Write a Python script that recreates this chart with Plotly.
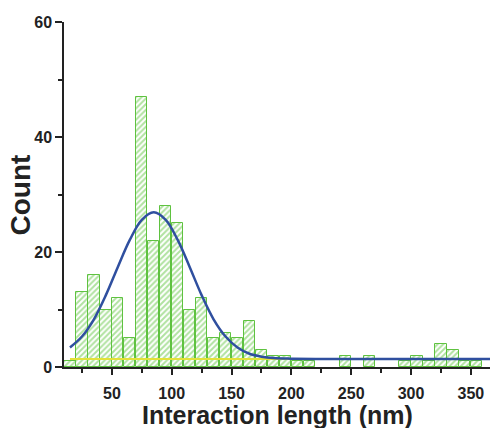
import plotly.graph_objects as go

# Histogram bins (centres, nm) and counts
bin_centers = [15, 25, 35, 45, 55, 65, 75, 85, 95, 105, 115, 125, 135, 145, 155,
               165, 175, 185, 195, 205, 215, 225, 235, 245, 255, 265, 275, 285,
               295, 305, 315, 325, 335, 345, 355]
counts = [1, 13, 16, 10, 12, 5, 47, 22, 28, 25, 10, 12, 5, 6, 5,
          8, 3, 2, 2, 1, 1, 0, 0, 2, 0, 2, 0, 0,
          1, 2, 1, 4, 3, 1, 1]

# Gaussian fit curve
fit_x = [15, 25, 35, 45, 55, 65, 75, 85, 95, 105, 115, 125, 135, 145, 155,
         165, 175, 185, 200, 220, 260, 320, 366]
fit_y = [3.4, 5.3, 8.3, 12.5, 17.4, 22.1, 25.6, 26.9, 25.6, 22.1, 17.4, 12.5, 8.3, 5.3, 3.4,
         2.3, 1.8, 1.55, 1.45, 1.4, 1.4, 1.4, 1.4]

# Baseline (offset) line
base_x = [15, 366]
base_y = [1.4, 1.4]

x_ticks = [50, 100, 150, 200, 250, 300, 350]
y_ticks = [0, 20, 40, 60]
x_title = "Interaction length (nm)"
y_title = "Count"

bx = [c for c, n in zip(bin_centers, counts) if n > 0]
by = [n for n in counts if n > 0]

fig = go.Figure()
fig.add_trace(go.Bar(
    x=bx, y=by, width=9.4,
    marker=dict(color="white",
                line=dict(color="#5fc240", width=1),
                pattern=dict(shape="/", fgcolor="#62c642", bgcolor="white",
                             size=4, solidity=0.5)),
    showlegend=False,
))
fig.add_trace(go.Scatter(x=base_x, y=base_y, mode="lines",
                         line=dict(color="#e3e23a", width=2), showlegend=False))
fig.add_trace(go.Scatter(x=fit_x, y=fit_y, mode="lines", line_shape="spline",
                         line=dict(color="#2f4f9f", width=2.5), showlegend=False))

tickfont = dict(family="Liberation Sans", size=16, color="#222", weight="bold")
fig.update_layout(
    width=491, height=428,
    margin=dict(l=64, r=1, t=22, b=61),
    paper_bgcolor="white", plot_bgcolor="white",
    bargap=0,
    xaxis=dict(range=[10, 366], tickmode="array", tickvals=x_ticks,
               automargin=False, ticklabelstandoff=5,
               ticks="outside", ticklen=6, tickwidth=1.5, tickcolor="#222",
               minor=dict(dtick=25, tick0=0, ticks="outside", ticklen=4,
                          tickwidth=1.5, tickcolor="#222"),
               showline=True, linecolor="#222", linewidth=1.5,
               showgrid=False, zeroline=False, tickfont=tickfont),
    yaxis=dict(range=[0, 60], tickmode="array", tickvals=y_ticks,
               automargin=False,
               ticks="outside", ticklen=7, tickwidth=1.5, tickcolor="#222",
               minor=dict(dtick=10, tick0=0, ticks="outside", ticklen=4,
                          tickwidth=1.5, tickcolor="#222"),
               showline=True, linecolor="#222", linewidth=1.5,
               showgrid=False, zeroline=False, tickfont=tickfont),
    annotations=[
        dict(text=x_title, xref="paper", yref="paper", x=0.5, y=-0.1377,
             xanchor="center", yanchor="middle", showarrow=False, borderpad=0,
             font=dict(family="Liberation Sans", size=25, color="#222",
                       weight="bold")),
        dict(text=y_title, xref="paper", yref="paper", x=-0.101, y=0.5,
             xanchor="center", yanchor="middle", showarrow=False, textangle=-90,
             font=dict(family="Liberation Sans", size=28, color="#222",
                       weight="bold")),
    ],
)

fig.write_html("out.html", config={"displayModeBar": False},
               post_script="document.body.style.margin='0';document.body.style.padding='0';")
